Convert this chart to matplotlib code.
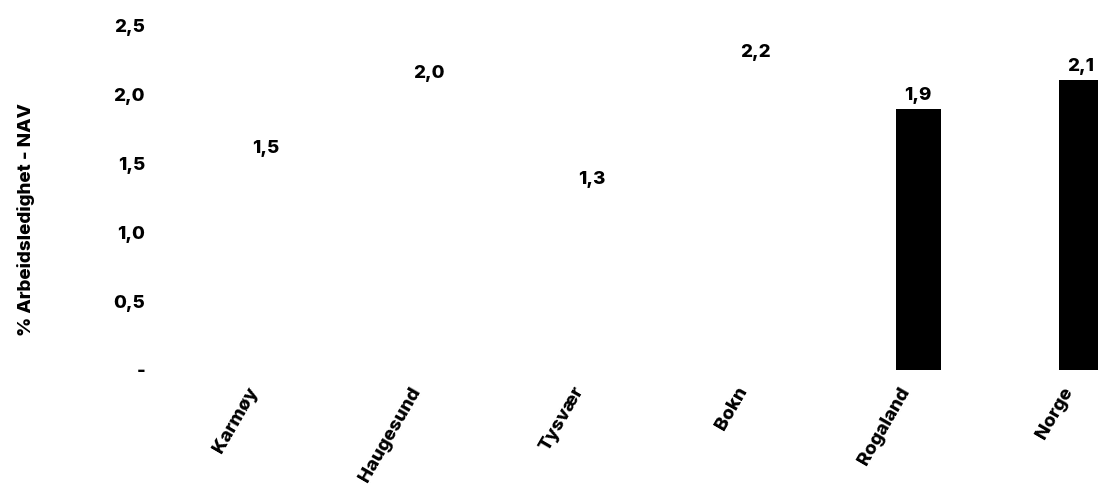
import matplotlib
matplotlib.use("Agg")
import matplotlib.pyplot as plt
import matplotlib.transforms as mtransforms

# data
steder = ["Karmøy", "Haugesund", "Tysvær", "Bokn", "Rogaland", "Norge"]
ledighet = [1.5, 2.049, 1.28, 2.2, 1.89, 2.1]
farger = ["white", "white", "white", "white", "black", "black"]
yticks = [0, 0.5, 1.0, 1.5, 2.0, 2.5]
yticklabels = ["-", "0,5", "1,0", "1,5", "2,0", "2,5"]

plt.rcParams["font.family"] = ["Inter", "DejaVu Sans"]
plt.rcParams["font.weight"] = "heavy"
fs = 13.5

fig = plt.figure(figsize=(10.98, 4.92), dpi=100)
ax = fig.add_axes([0.146, 0.248, 0.854, 0.701])

x = list(range(len(steder)))
bars = ax.bar(x, ledighet, width=0.276, color=farger)
for xi, v in zip(x, ledighet):
    ax.annotate(f"{v:.1f}".replace(".", ","), (xi, v), xytext=(0, 4),
                textcoords="offset points", ha="center", va="bottom",
                fontsize=fs, fontweight="heavy")

ax.set_xlim(-0.65, 5.104)
ax.set_ylim(0, 2.5)
ax.set_yticks(yticks)
ax.set_yticklabels(yticklabels, fontsize=fs, fontweight="heavy")
ax.set_xticks(x)
ax.set_xticklabels(steder, rotation=60, ha="right", rotation_mode="anchor",
                   fontsize=fs, fontweight="heavy")
ax.tick_params(length=0, pad=10)
ax.tick_params(axis="y", pad=11)
shift = mtransforms.ScaledTranslation(-14 / 72, 0, fig.dpi_scale_trans)
for lab in ax.get_xticklabels():
    lab.set_transform(lab.get_transform() + shift)
for s in ax.spines.values():
    s.set_visible(False)
ax.set_ylabel("% Arbeidsledighet - NAV", fontsize=fs, fontweight="heavy")
ax.yaxis.set_label_coords(-0.1333, 0.435)

fig.savefig("out.png", dpi=100)
